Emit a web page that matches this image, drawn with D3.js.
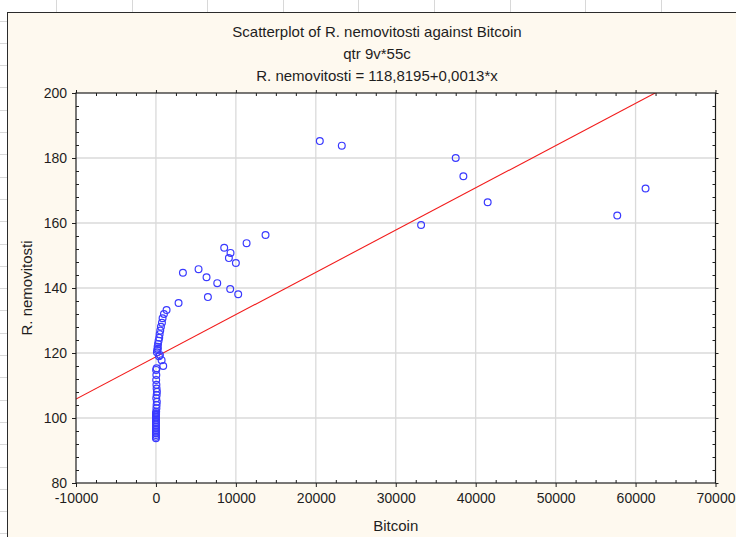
<!DOCTYPE html>
<html>
<head>
<meta charset="utf-8">
<script src="https://cdn.jsdelivr.net/npm/d3@7"></script>
<style>
  html, body { margin: 0; padding: 0; background: #ffffff; }
  svg { display: block; }
  text { font-family: "Liberation Sans", Arial, sans-serif; fill: #1e1e1e; }
</style>
</head>
<body>
<svg id="chart" width="736" height="537"></svg>
<script>
// Monthly observations: Bitcoin price vs. real-estate index
const bitcoin = [
  0.1, 0.2, 0.3, 0.8, 1, 3, 5, 6, 10, 13, 5, 12, 6, 10, 14, 20, 30, 60, 80, 110, 40, 90, 120, 80,
  910, 710, 500, 380, 120, 160, 240, 210, 260, 330, 410, 460, 540, 625, 750, 830, 1000, 1330, 2830,
  3375, 5330, 6330, 6500, 7670, 8540, 9125, 9290, 9330, 10000, 10290, 11340, 13710,
  20500, 23250, 33170, 37500, 38460, 41500, 57710, 61250,
  60, 30, 50, 20, 80, 8, 15
];
const nemovitosti = [
  93.8, 94.2, 94.8, 95.3, 95.8, 96.3, 96.8, 97.3, 97.8, 98.3, 98.8, 99.4, 99.9, 100.4, 100.8, 101.2,
  101.9, 103.0, 104.0, 105.0, 106.1, 107.1, 108.1, 109.1,
  116.0, 117.8, 119.4, 119.0, 120.2, 120.9, 121.3, 121.9, 122.8, 123.8, 124.7, 125.8, 126.9, 128.1,
  129.3, 130.7, 132.0, 133.2, 135.4,
  144.7, 145.8, 143.3, 137.2, 141.5, 152.4, 149.2, 139.7, 150.8, 147.7, 138.1, 153.8, 156.3,
  185.2, 183.8, 159.4, 180.0, 174.4, 166.4, 162.3, 170.6,
  110.2, 111.7, 113.2, 114.8, 115.3, 100.9, 101.5
];

const xTicks = [-10000, 0, 10000, 20000, 30000, 40000, 50000, 60000, 70000];
const yTicks = [80, 100, 120, 140, 160, 180, 200];

// Fitted line as printed in the header
const intercept = 118.8195;
const slope = 0.0013;

const titleLines = [
  "Scatterplot of R. nemovitosti against Bitcoin",
  "qtr 9v*55c",
  "R. nemovitosti = 118,8195+0,0013*x"
];

const svg = d3.select("#chart");
const W = 736, H = 537;
const plot = { left: 76, right: 715.5, top: 93, bottom: 483 };

// Faint sheet ruler marks outside the graph window
const ruler = svg.append("g").attr("stroke", "#d8d8d8").attr("stroke-width", 1);
for (let yy = 20.5; yy < H; yy += 22.3) {
  ruler.append("line").attr("x1", 0).attr("x2", 7).attr("y1", Math.round(yy) + 0.5).attr("y2", Math.round(yy) + 0.5);
}
for (let xx = 56; xx < W; xx += 75.6) {
  ruler.append("line").attr("y1", 0).attr("y2", 12).attr("x1", Math.round(xx) + 0.5).attr("x2", Math.round(xx) + 0.5);
}

// Graph window
svg.append("rect")
  .attr("x", 7.5).attr("y", 12.5).attr("width", W + 10).attr("height", H + 10)
  .attr("fill", "#fef9ef").attr("stroke", "#2b2b2b").attr("stroke-width", 1);

const x = d3.scaleLinear().domain([-10000, 70000]).range([plot.left, plot.right]);
const y = d3.scaleLinear().domain([80, 200]).range([plot.bottom, plot.top]);

// Plot background
svg.append("rect")
  .attr("x", plot.left).attr("y", plot.top)
  .attr("width", plot.right - plot.left).attr("height", plot.bottom - plot.top)
  .attr("fill", "#ffffff");

// Grid
const grid = svg.append("g").attr("stroke", "#dadada").attr("stroke-width", 1.3);
xTicks.slice(1, -1).forEach(t => {
  grid.append("line").attr("x1", x(t)).attr("x2", x(t)).attr("y1", plot.top).attr("y2", plot.bottom);
});
yTicks.slice(1, -1).forEach(t => {
  grid.append("line").attr("y1", y(t)).attr("y2", y(t)).attr("x1", plot.left).attr("x2", plot.right);
});

// Minor tick positions
const xMinor = d3.range(-10000, 70001, 2500).filter(v => v % 10000 !== 0);
const yMinor = d3.range(80, 201, 4).filter(v => v % 20 !== 0);

// Plain hyphen-minus for negative labels
const plainInt = v => String(Math.round(v));

function styleAxis(g) {
  g.select(".domain").remove();
  g.selectAll(".tick line").attr("stroke", "#1e1e1e");
}

// Bottom axis: labels + outward major ticks
svg.append("g").attr("transform", `translate(0,${plot.bottom})`)
  .call(d3.axisBottom(x).tickValues(xTicks).tickFormat(plainInt).tickSize(4).tickPadding(6))
  .call(styleAxis)
  .call(g => g.selectAll("text").attr("font-size", 14).attr("fill", "#1e1e1e")
    .attr("font-family", "Liberation Sans, Arial, sans-serif"));
// Bottom inward minor ticks
svg.append("g").attr("transform", `translate(0,${plot.bottom})`)
  .call(d3.axisBottom(x).tickValues(xMinor).tickSize(-3).tickFormat(""))
  .call(styleAxis);
// Top inward minor and major ticks
svg.append("g").attr("transform", `translate(0,${plot.top})`)
  .call(d3.axisTop(x).tickValues(xMinor).tickSize(-3).tickFormat(""))
  .call(styleAxis);
svg.append("g").attr("transform", `translate(0,${plot.top})`)
  .call(d3.axisTop(x).tickValues(xTicks).tickSize(3).tickFormat(""))
  .call(styleAxis);

// Left axis
svg.append("g").attr("transform", `translate(${plot.left},0)`)
  .call(d3.axisLeft(y).tickValues(yTicks).tickFormat(plainInt).tickSize(4).tickPadding(5))
  .call(styleAxis)
  .call(g => g.selectAll("text").attr("font-size", 14).attr("fill", "#1e1e1e")
    .attr("font-family", "Liberation Sans, Arial, sans-serif"));
svg.append("g").attr("transform", `translate(${plot.left},0)`)
  .call(d3.axisLeft(y).tickValues(yMinor).tickSize(-3).tickFormat(""))
  .call(styleAxis);
// Right axis
svg.append("g").attr("transform", `translate(${plot.right},0)`)
  .call(d3.axisRight(y).tickValues(yMinor).tickSize(-3).tickFormat(""))
  .call(styleAxis);
svg.append("g").attr("transform", `translate(${plot.right},0)`)
  .call(d3.axisRight(y).tickValues(yTicks).tickSize(3).tickFormat(""))
  .call(styleAxis);

// Clip region for data
svg.append("defs").append("clipPath").attr("id", "plotClip")
  .append("rect").attr("x", plot.left).attr("y", plot.top)
  .attr("width", plot.right - plot.left).attr("height", plot.bottom - plot.top);

// Regression line
const xDom = x.domain();
svg.append("line")
  .attr("clip-path", "url(#plotClip)")
  .attr("x1", x(xDom[0])).attr("y1", y(intercept + slope * xDom[0]))
  .attr("x2", x(xDom[1])).attr("y2", y(intercept + slope * xDom[1]))
  .attr("stroke", "#f21c1c").attr("stroke-width", 1.1);

// Points
const pts = bitcoin.map((b, i) => ({ b, v: nemovitosti[i] }));
svg.append("g").attr("clip-path", "url(#plotClip)")
  .selectAll("circle").data(pts).join("circle")
  .attr("cx", d => x(d.b)).attr("cy", d => y(d.v)).attr("r", 3.4)
  .attr("fill", "none").attr("stroke", "#3a3aff").attr("stroke-width", 1.2);

// Plot frame
svg.append("rect")
  .attr("x", plot.left).attr("y", plot.top)
  .attr("width", plot.right - plot.left).attr("height", plot.bottom - plot.top)
  .attr("fill", "none").attr("stroke", "#1e1e1e").attr("stroke-width", 1.2);

// Titles
const titleY = [37, 59, 81];
titleLines.forEach((t, i) => {
  svg.append("text").attr("x", 377).attr("y", titleY[i])
    .attr("text-anchor", "middle").attr("font-size", 15).text(t);
});

// Axis titles
svg.append("text").attr("x", (plot.left + plot.right) / 2).attr("y", 531)
  .attr("text-anchor", "middle").attr("font-size", 15).text("Bitcoin");
svg.append("text").attr("transform", `translate(32,${(plot.top + plot.bottom) / 2}) rotate(-90)`)
  .attr("text-anchor", "middle").attr("font-size", 15).text("R. nemovitosti");
</script>
</body>
</html>
